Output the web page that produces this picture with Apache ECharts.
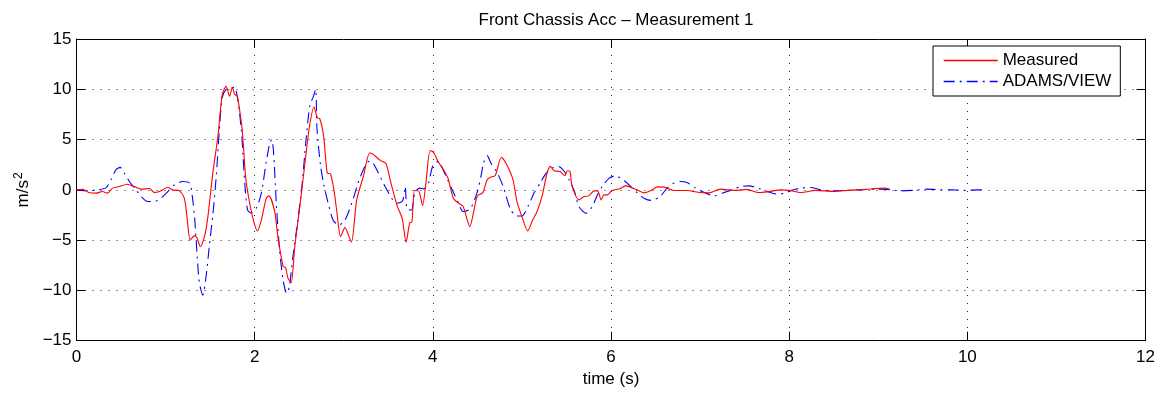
<!DOCTYPE html>
<html>
<head>
<meta charset="utf-8">
<script src="https://cdn.jsdelivr.net/npm/echarts@6/dist/echarts.min.js"></script>
<style>
html,body{margin:0;padding:0;background:#fff;}
#chart{width:1170px;height:394px;}
</style>
</head>
<body>
<div id="chart"></div>
<script>
const xTicks = [0, 2, 4, 6, 8, 10, 12];
const yTicks = [-15, -10, -5, 0, 5, 10, 15];

const measTime = [0,0.07,0.14,0.22,0.29,0.35,0.405,0.48,0.57,0.65,0.725,0.82,0.875,0.93,1.025,1.08,1.156,1.21,1.24,1.276,1.325,1.355,1.39,1.437,1.475,1.53,1.587,1.636,1.68,1.718,1.75,1.775,1.805,1.83,1.86,1.9,1.944,1.99,2.03,2.075,2.13,2.16,2.225,2.26,2.32,2.345,2.375,2.41,2.45,2.507,2.56,2.61,2.665,2.705,2.73,2.777,2.815,2.85,2.89,2.92,2.965,3.013,3.085,3.145,3.22,3.29,3.32,3.41,3.475,3.53,3.6,3.655,3.7,3.74,3.765,3.795,3.84,3.885,3.92,3.97,4.01,4.06,4.12,4.17,4.23,4.29,4.34,4.38,4.415,4.46,4.5,4.56,4.61,4.66,4.7,4.77,4.83,4.9,4.945,5.0,5.065,5.12,5.17,5.23,5.28,5.32,5.36,5.43,5.48,5.51,5.54,5.56,5.64,5.70,5.75,5.81,5.85,5.89,5.92,5.96,6.01,6.1,6.16,6.22,6.29,6.37,6.45,6.52,6.6,6.71,6.85,7.0,7.1,7.23,7.4,7.52,7.66,7.75,7.91,8.0,8.13,8.3,8.5,8.65,8.85,9.07,9.13];
const measVal = [0,0.05,-0.27,-0.33,-0.17,-0.33,0.17,0.33,0.56,0.33,0.07,0.13,-0.27,-0.17,0.23,0,-0.1,-0.83,-2.66,-4.98,-4.55,-4.82,-5.65,-4.65,-2.66,1.66,5.3,9.47,10.3,9.3,10.2,9.5,9.3,8.0,6.0,1.16,-1.33,-3.16,-4.09,-3.0,-0.83,-0.6,-2.16,-4.65,-7.64,-7.7,-8.8,-9.24,-5.65,-1.66,2.32,6.0,8.24,7.14,7.1,5.15,1.66,1.6,0,-2.0,-4.65,-3.76,-5.2,-1.0,1.33,3.66,3.6,2.93,2.6,0.66,-1.6,-2.8,-5.2,-3.3,-3.2,-0.07,-0.1,-1.55,0.5,3.92,3.7,2.8,2.0,1.16,-0.83,-1.33,-1.66,-2.82,-3.66,-2.1,-0.6,-0.3,1.0,1.3,1.4,3.24,2.5,1.0,-1.2,-2.66,-4.09,-3.0,-2.16,-0.5,1.6,2.33,1.9,1.83,1.4,1.9,1.83,0.5,-1.0,-0.66,-0.6,-0.1,-0.1,-1.0,-0.5,-0.5,-0.07,0.1,0.4,0.27,0,-0.3,-0.07,0.3,0.27,-0.07,-0.07,-0.27,-0.3,0.07,-0.05,0.05,-0.27,-0.2,0,-0.05,-0.27,-0.05,-0.15,-0.05,0.05,0.17,0.05];

const adamsTime = [0,0.14,0.22,0.33,0.387,0.443,0.49,0.537,0.593,0.67,0.725,0.8,0.875,0.95,1.025,1.1,1.19,1.27,1.3,1.325,1.36,1.38,1.418,1.456,1.49,1.53,1.57,1.6,1.636,1.68,1.73,1.775,1.81,1.85,1.87,1.89,1.92,1.96,2.02,2.075,2.13,2.17,2.19,2.21,2.245,2.28,2.32,2.36,2.39,2.43,2.47,2.53,2.58,2.62,2.66,2.685,2.70,2.74,2.78,2.83,2.88,2.94,3.0,3.05,3.11,3.16,3.22,3.28,3.31,3.37,3.46,3.55,3.6,3.66,3.69,3.71,3.76,3.8,3.85,3.9,3.95,4.0,4.06,4.12,4.2,4.28,4.34,4.42,4.5,4.54,4.57,4.61,4.655,4.72,4.79,4.87,4.94,5.0,5.07,5.14,5.21,5.27,5.34,5.41,5.47,5.53,5.59,5.64,5.72,5.79,5.84,5.9,5.98,6.05,6.15,6.22,6.3,6.37,6.45,6.55,6.63,6.69,6.78,6.86,6.95,7.05,7.16,7.27,7.38,7.46,7.55,7.65,7.75,7.85,7.95,8.02,8.13,8.24,8.36,8.51,8.65,8.81,8.96,9.1,9.26,9.4,9.56,9.7,9.82,9.97,10.12,10.18];
const adamsVal = [0,-0.1,0,0.2,1.0,2.0,2.23,1.66,0.83,0,-0.66,-1.16,-1.16,-0.83,-0.17,0.5,0.83,0.66,-0.66,-2.66,-7.3,-9.3,-10.47,-8.5,-5.65,-2.5,1.5,5.5,9.2,10.0,10.1,10.2,9.0,6.0,3.3,0.5,-2.0,-2.3,-1.8,-0.33,2.8,4.65,5.0,4.0,-1.66,-6.0,-9.0,-10.3,-9.6,-6.6,-4.0,0.33,5.3,8.4,9.3,10.0,6.0,2.4,0.33,-1.5,-3.0,-3.5,-3.2,-2.3,-0.8,0.66,2.0,2.83,2.83,2.0,0.4,-1.0,-1.33,-1.1,0.33,-1.9,-2.0,-0.25,0.17,0.1,0.66,2.4,2.83,1.9,0.33,-1.16,-2.16,-1.9,-0.2,1.33,2.7,3.4,2.6,1.75,0.33,-1.9,-2.6,-2.6,-1.6,-0.25,0.75,1.63,2.16,2.33,1.9,1.0,-0.17,-1.66,-2.33,-1.66,-0.66,0.33,1.16,1.4,0.9,0.35,-0.33,-0.83,-1.05,-0.66,0.17,0.6,0.83,0.7,0.17,-0.27,-0.6,-0.27,0.07,0.33,0.4,0.17,-0.15,-0.4,-0.35,-0.07,0.17,0.23,0,-0.1,-0.05,0,0.07,0.05,-0.1,-0.05,0.07,0.02,0,-0.05,0,0];

const FONT = '"Liberation Sans", Arial, Helvetica, sans-serif';
const RED = '#ff0000', BLUE = '#0000ff';
const DASHDOT = [11, 5, 2, 5];
const fmtMinus = v => String(v).replace('-', '\u2212');
const pairs = (t, v) => t.map((x, i) => [x, v[i]]);

const chart = echarts.init(document.getElementById('chart'), null, {renderer: 'canvas'});

const axisCommon = {
  axisLine: {show: true, onZero: false, lineStyle: {color: '#000', width: 1}},
  axisTick: {show: true, inside: true, length: 9, lineStyle: {color: '#000'}},
};

chart.setOption({
  animation: false,
  backgroundColor: '#fff',
  textStyle: {fontFamily: FONT},
  title: {
    text: 'Front Chassis Acc \u2013 Measurement 1',
    left: 611, top: 7, textAlign: 'center',
    textStyle: {fontFamily: FONT, fontSize: 17, fontWeight: 'normal', color: '#000'}
  },
  grid: {left: 76.5, right: 24.5, top: 39, bottom: 53.3, containLabel: false},
  legend: {
    orient: 'vertical',
    left: 933, top: 46,
    padding: [6, 9, 6, 10],
    itemGap: 4,
    itemWidth: 54, itemHeight: 14,
    borderColor: '#000', borderWidth: 1, backgroundColor: '#fff',
    itemStyle: {opacity: 0},
    lineStyle: {width: 1.4},
    textStyle: {fontFamily: FONT, fontSize: 17, color: '#000'},
    data: ['Measured', 'ADAMS/VIEW']
  },
  xAxis: [
    Object.assign({
      type: 'value', min: xTicks[0], max: xTicks[xTicks.length - 1], interval: 2,
      position: 'bottom',
      name: 'time (s)', nameLocation: 'middle', nameGap: 28,
      nameTextStyle: {fontFamily: FONT, fontSize: 17, color: '#000'},
      axisLabel: {color: '#000', fontSize: 17, margin: 8, fontFamily: FONT, formatter: fmtMinus},
      splitLine: {show: true, lineStyle: {color: '#222', type: [1, 7], width: 1}}
    }, axisCommon),
    Object.assign({
      type: 'value', min: xTicks[0], max: xTicks[xTicks.length - 1], interval: 2,
      position: 'top', axisLabel: {show: false}, splitLine: {show: false}
    }, axisCommon)
  ],
  yAxis: [
    Object.assign({
      type: 'value', min: yTicks[0], max: yTicks[yTicks.length - 1], interval: 5,
      position: 'left',
      name: 'm/s{sup|2}', nameLocation: 'middle', nameGap: 37, nameRotate: 90,
      nameTextStyle: {fontFamily: FONT, fontSize: 17, color: '#000',
        rich: {sup: {fontFamily: FONT, fontSize: 12, color: '#000', verticalAlign: 'bottom', padding: [0, 0, 9, 1]}}},
      axisLabel: {color: '#000', fontSize: 17, margin: 5, fontFamily: FONT, formatter: fmtMinus},
      splitLine: {show: true, lineStyle: {color: '#222', type: [1, 7], width: 1}}
    }, axisCommon),
    Object.assign({
      type: 'value', min: yTicks[0], max: yTicks[yTicks.length - 1], interval: 5,
      position: 'right', axisLabel: {show: false}, splitLine: {show: false}
    }, axisCommon)
  ],
  series: [
    {
      name: 'Measured', type: 'line', xAxisIndex: 0, yAxisIndex: 0,
      data: pairs(measTime, measVal),
      symbol: 'none', smooth: 0.25,
      color: RED,
      lineStyle: {color: RED, width: 1.1},
      itemStyle: {color: RED},
      z: 3
    },
    {
      name: 'ADAMS/VIEW', type: 'line', xAxisIndex: 0, yAxisIndex: 0,
      data: pairs(adamsTime, adamsVal),
      symbol: 'none', smooth: 0.25,
      color: BLUE,
      lineStyle: {color: BLUE, width: 1.1, type: DASHDOT},
      itemStyle: {color: BLUE},
      z: 2
    }
  ]
});
</script>
</body>
</html>
